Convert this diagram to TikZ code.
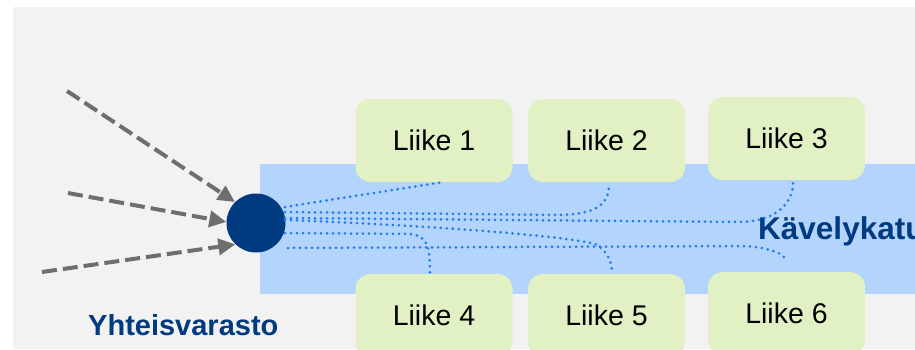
\documentclass[tikz,border=0pt]{standalone}
\usepackage{fontspec}
\setmainfont{Liberation Sans}
\usetikzlibrary{arrows.meta}
\definecolor{bggrey}{RGB}{242,242,242}
\definecolor{streetblue}{RGB}{179,212,252}
\definecolor{shopgreen}{RGB}{226,241,196}
\definecolor{navy}{RGB}{0,58,128}
\definecolor{arrowgrey}{RGB}{110,110,110}
\definecolor{dotblue}{RGB}{32,124,245}
\tikzset{
  shop/.style={rectangle, rounded corners=15pt, fill=shopgreen, minimum width=157pt, minimum height=83pt, inner sep=0pt, font=\fontsize{28.5}{30}\selectfont},
  feed/.style={draw=arrowgrey, line width=4pt, dash pattern=on 15pt off 6pt, -{Triangle[length=17pt,width=16pt]}},
  route/.style={draw=dotblue, line width=3pt, line cap=round, dash pattern=on 0pt off 6pt},
  label/.style={text=navy, font=\bfseries\fontsize{29}{30}\selectfont, inner sep=0pt}
}
\begin{document}
\begin{tikzpicture}[x=1pt,y=-1pt]
\useasboundingbox (0,0) rectangle (915,349);
\clip (0,0) rectangle (915,349);
\fill[bggrey] (13,7) rectangle (915,349);
\fill[streetblue] (260,164) rectangle (915,294);
% shops
\node[shop] (l1) at (434,140.5) {Liike 1};
\node[shop] (l2) at (606.5,140.5) {Liike 2};
\node[shop] (l3) at (786.5,138.5) {Liike 3};
\node[shop] (l4) at (434,315.5) {Liike 4};
\node[shop] (l5) at (606.5,315.5) {Liike 5};
\node[shop] (l6) at (786.5,313.5) {Liike 6};
% hub
\node[circle, fill=navy, minimum size=59pt, inner sep=0pt] (hub) at (256,223) {};
% labels
\node[label, anchor=base west, font=\bfseries\fontsize{31.5}{33}\selectfont] (walk) at (758,239) {Kävelykatu};
\node[label, anchor=base west] (store) at (88,335) {Yhteisvarasto};
% incoming arrows
\coordinate (a1) at (67,91);
\coordinate (a2) at (68,193);
\coordinate (a3) at (42,272);
\draw[feed] (a1) -- (hub.135);
\draw[feed] (a2) -- (hub.178);
\draw[feed] (a3) -- (hub.226);
% routes
\coordinate (s1) at (285,207);
\coordinate (s2) at (285,212);
\coordinate (s3) at (285,218);
\coordinate (s4) at (285,220);
\coordinate (s5) at (285,233);
\coordinate (s6) at (288,248);
\coordinate (e6) at (785,258);
\draw[route] (s1) -- ([xshift=8pt]l1.south);
\draw[route] (s2) -- (560,215) .. controls (600,214) and (609,202) .. ([xshift=2.5pt,yshift=-2pt]l2.south);
\draw[route] (s3) -- (740,222) .. controls (780,221) and (793,200) .. ([xshift=6.5pt,yshift=-3pt]l3.south);
\draw[route] (s4) .. controls (420,225) and (560,235) .. (595,244) .. controls (607,250) and (612,262) .. ([xshift=5.5pt,yshift=1pt]l5.north);
\draw[route] (s5) -- (410,234) .. controls (428,236) and (430,246) .. ([xshift=-4pt,yshift=-2pt]l4.north);
\draw[route] (s6) -- (745,246) .. controls (768,248) and (778,251) .. (e6);
\end{tikzpicture}
\end{document}
